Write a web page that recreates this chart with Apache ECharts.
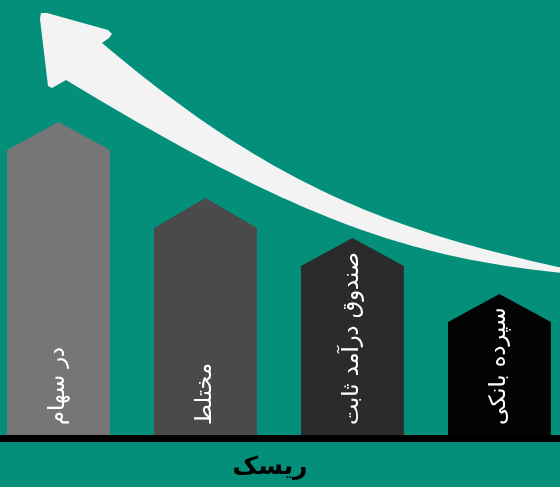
<!DOCTYPE html>
<html><head><meta charset="utf-8">
<script src="https://cdn.jsdelivr.net/npm/echarts@6/dist/echarts.min.js"></script>
<style>html,body{margin:0;padding:0;background:#038f7a}#c{width:560px;height:487px}</style>
</head><body><div id="c"></div>
<script>
var categories = ['در سهام', 'مختلط', 'صندوق درآمد ثابت', 'سپرده بانکی'];
var shoulderValues = [72, 52.5, 43, 29];
var peakValues = [79, 60, 50, 36];
var barColors = ['#767676', '#4a4a4a', '#2b2b2b', '#030303'];
var axisTitle = 'ریسک';

var data = categories.map(function (c, i) { return [i, shoulderValues[i], peakValues[i]]; });

// decorative arrow outline (pixel space)
function cubic(p0, p1, p2, p3, n) {
  var pts = [];
  for (var k = 0; k <= n; k++) {
    var t = k / n, u = 1 - t;
    pts.push([u*u*u*p0[0] + 3*u*u*t*p1[0] + 3*u*t*t*p2[0] + t*t*t*p3[0],
              u*u*u*p0[1] + 3*u*u*t*p1[1] + 3*u*t*t*p2[1] + t*t*t*p3[1]]);
  }
  return pts;
}
var arrowPts = [].concat(
  cubic([102, 43], [272, 187], [393, 231], [563, 268], 60),
  cubic([563, 273], [413, 258], [300, 222], [66, 80], 60),
  [[52, 88], [48, 86], [40, 19], [41, 13], [47, 13], [108, 30], [112, 34], [109, 38]]
);

var chart = echarts.init(document.getElementById('c'), null, {renderer: 'canvas'});
chart.setOption({
  backgroundColor: '#038f7a',
  animation: false,
  grid: {left: 0, right: 0, top: 38, bottom: 49, containLabel: false},
  xAxis: {
    type: 'value', min: -0.398, max: 3.412, z: 10,
    splitLine: {show: false},
    axisLine: {show: true, lineStyle: {color: '#000', width: 7}},
    axisTick: {show: false}, axisLabel: {show: false}
  },
  yAxis: {type: 'value', min: 0, max: 100, show: false, splitLine: {show: false}},
  graphic: [
    {type: 'polygon', z: 1, shape: {points: arrowPts}, style: {fill: '#f3f3f3'}},
    {type: 'text', z: 20, x: 270, y: 467,
     style: {text: axisTitle, fill: '#000', font: 'bold 25px "DejaVu Sans"', align: 'center', verticalAlign: 'middle'}}
  ],
  series: [{
    type: 'custom',
    data: data,
    z: 5,
    renderItem: function (params, api) {
      var i = api.value(0);
      var base = api.coord([i, 0]);
      var sh = api.coord([i, api.value(1)]);
      var pk = api.coord([i, api.value(2)]);
      var w = api.size([1, 0])[0] * 0.7;
      var cx = base[0];
      var l = cx - w / 2, r = cx + w / 2;
      return {
        type: 'group',
        children: [
          {type: 'polygon', shape: {points: [[l, base[1]], [l, sh[1]], [cx, pk[1]], [r, sh[1]], [r, base[1]]]},
           style: {fill: barColors[i]}},
          {type: 'text', x: cx, y: base[1] - 13, rotation: Math.PI / 2,
           style: {text: categories[i], fill: '#fff', font: '22.5px "DejaVu Sans"', align: 'left', verticalAlign: 'middle'}}
        ]
      };
    }
  }]
});
</script></body></html>
